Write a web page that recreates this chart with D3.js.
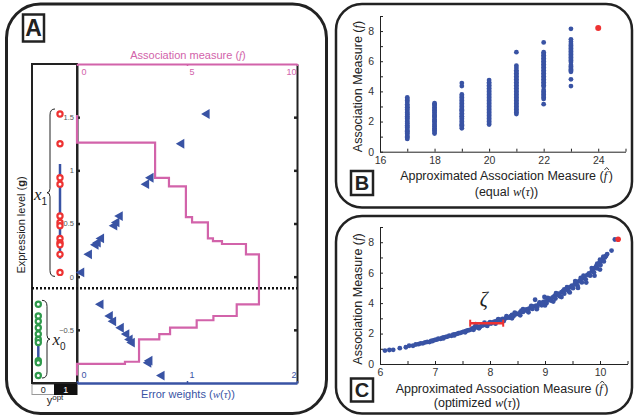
<!DOCTYPE html>
<html>
<head>
<meta charset="utf-8">
<script src="https://cdn.jsdelivr.net/npm/d3@7"></script>
<style>
  body { margin: 0; background: #fff; }
  svg { display: block; }
</style>
</head>
<body>
<div class="figure"></div>
<script>
// ---------- panel A data ----------
const gTicks = [-0.5, 0, 0.5, 1, 1.5];
const fTicks = [0, 5, 10];
const wTicks = [0, 1, 2];
// samples of class x1 (y = 1) and x0 (y = 0): expression level and error weight
const x1Expr = [1.53, 1.25, 0.93, 0.87, 0.57, 0.51, 0.48, 0.36, 0.32, 0.30, 0.21, 0.04];
const x1Weight = [1.18, 0.95, 0.67, 0.63, 0.39, 0.36, 0.34, 0.22, 0.19, 0.17, 0.11, 0.04];
const x0Expr = [-0.26, -0.37, -0.42, -0.48, -0.54, -0.59, -0.62, -0.79, -0.81, -0.93];
const x0Weight = [0.215, 0.30, 0.33, 0.40, 0.45, 0.48, 0.50, 0.66, 0.65, 0.77];
// association measure as a function of threshold (step edges on g, value between edges)
const stepEdges = [1.52, 1.26, 0.93, 0.85, 0.56, 0.51, 0.36, 0.335, 0.307, 0.21, -0.26, -0.37, -0.41, -0.48, -0.54, -0.59, -0.80, -0.82, -0.93];
const stepF = [0, 3.55, 4.18, 4.95, 5.23, 5.95, 6.18, 6.59, 7.68, 8.27, 7.26, 6.2, 5.44, 4.23, 3.74, 2.82, 2.18, 0];
const threshold = -0.11;
const yoptLabels = ['0', '1'];

// ---------- panel B data ----------
const bTicksX = [16, 17, 18, 19, 20, 21, 22, 23, 24, 25];
const bTicksY = [0, 1, 2, 3, 4, 5, 6, 7, 8, 9];
const bCols = [17, 18, 19, 20, 21, 22, 23];
const b17 = [0.85, 0.95, 1.0, 1.1, 1.2, 1.25, 1.35, 1.4, 1.5, 1.6, 1.65, 1.75, 1.85, 1.9, 2.0, 2.1, 2.2, 2.25, 2.35, 2.45, 2.5, 2.6, 2.7, 2.8, 2.9, 2.95, 3.05, 3.15, 3.3, 3.4, 3.5, 3.6];
const b18 = [1.2, 1.3, 1.4, 1.45, 1.55, 1.65, 1.7, 1.8, 1.9, 2.0, 2.05, 2.15, 2.25, 2.35, 2.4, 2.5, 2.6, 2.7, 2.75, 2.85, 2.95, 3.05, 3.15, 3.22];
const b19 = [1.55, 1.65, 1.75, 1.8, 1.9, 2.0, 2.1, 2.2, 2.3, 2.35, 2.45, 2.55, 2.65, 2.75, 2.8, 2.9, 3.0, 3.1, 3.2, 3.3, 3.4, 3.5, 3.6, 3.7, 3.8, 4.35, 4.55];
const b20 = [1.8, 1.9, 2.0, 2.1, 2.2, 2.3, 2.4, 2.5, 2.6, 2.7, 2.8, 2.9, 3.0, 3.1, 3.2, 3.3, 3.4, 3.5, 3.6, 3.7, 3.8, 3.9, 4.0, 4.1, 4.2, 4.3, 4.4, 4.5, 4.6, 4.75];
const b21 = [2.5, 2.6, 2.7, 2.8, 2.9, 3.0, 3.1, 3.2, 3.3, 3.4, 3.5, 3.6, 3.7, 3.8, 3.9, 4.0, 4.1, 4.2, 4.3, 4.4, 4.5, 4.6, 4.7, 4.8, 4.9, 5.0, 5.1, 5.2, 5.3, 5.4, 5.55, 5.7, 6.6];
const b22 = [3.15, 3.5, 3.6, 3.7, 3.8, 3.9, 4.0, 4.1, 4.3, 4.4, 4.5, 4.6, 4.7, 4.8, 4.9, 5.0, 5.1, 5.2, 5.3, 5.4, 5.5, 5.6, 5.7, 5.8, 5.9, 6.0, 6.1, 6.2, 6.3, 6.4, 6.5, 6.6, 7.25];
const b23 = [4.35, 4.8, 5.3, 5.38, 5.45, 5.55, 5.65, 5.75, 5.95, 6.05, 6.15, 6.25, 6.35, 6.45, 6.55, 6.65, 6.75, 6.85, 6.95, 7.05, 7.15, 7.3, 7.45, 8.15];
const bBest = [24, 8.2];

// ---------- panel C data ----------
const cTicksX = [6, 6.5, 7, 7.5, 8, 8.5, 9, 9.5, 10, 10.5];
const cTicksY = [0, 1, 2, 3, 4, 5, 6, 7, 8, 9];
const cPoints = [[6.09,0.88],[6.17,0.92],[6.24,0.93],[6.36,1.04],[6.47,1.1],[6.53,1.2],[6.6,1.2],[6.65,1.28],[6.7,1.3],[6.74,1.36],
  [6.78,1.36],[6.82,1.42],[6.86,1.45],[6.9,1.44],[6.93,1.52],[6.97,1.55],[7.0,1.58],[7.03,1.6],[7.06,1.66],[7.1,1.65],
  [7.13,1.72],[7.16,1.74],[7.2,1.78],[7.23,1.8],[7.26,1.86],[7.3,1.85],[7.33,1.92],[7.36,1.95],[7.4,1.98],[7.43,2.02],
  [7.46,2.04],[7.5,2.1],[7.53,2.12],[7.56,2.16],[7.59,2.2],[7.62,2.22],[7.65,2.26],[7.68,2.34],[7.7,2.3],[7.72,2.42],
  [7.74,2.62],[7.76,2.4],[7.79,2.46],[7.82,2.44],[7.85,2.52],[7.88,2.55],[7.9,2.72],[7.92,2.58],[7.95,2.6],[7.98,2.66],
  [8.0,2.75],[8.02,2.66],[8.05,2.74],[8.08,2.78],[8.11,2.8],[8.14,2.86],[8.17,2.84],[8.2,2.92],[8.23,2.96],[8.26,2.94],
  [8.29,3.02],[8.32,3.06],[8.35,3.04],[8.38,3.14],[8.4,3.22],[8.43,3.16],[8.46,3.26],[8.49,3.3],[8.52,3.28],[8.55,3.4],
  [8.57,3.5],[8.6,3.42],[8.63,3.52],[8.66,3.58],[8.68,3.48],[8.71,3.64],[8.74,3.7],[8.77,3.62],[8.8,3.78],[8.82,4.22],
  [8.84,3.84],[8.86,3.74],[8.89,3.92],[8.92,3.98],[8.94,3.86],[8.97,4.08],[8.99,4.4],[9.01,4.12],[9.03,4.0],[9.06,4.22],
  [9.09,4.3],[9.11,4.16],[9.14,4.38],[9.17,4.46],[9.19,4.3],[9.22,4.55],[9.25,4.62],[9.27,4.45],[9.3,4.72],[9.33,4.8],
  [9.35,4.62],[9.38,4.88],[9.41,4.96],[9.43,4.78],[9.46,5.06],[9.49,5.14],[9.51,4.98],[9.54,5.24],[9.57,5.34],[9.59,5.16],
  [9.62,5.44],[9.65,5.54],[9.67,5.36],[9.7,5.64],[9.72,5.74],[9.74,5.56],[9.77,5.86],[9.8,5.96],[9.82,5.8],[9.85,6.08],
  [9.87,6.2],[9.89,6.02],[9.91,6.32],[9.93,6.42],[9.95,6.28],[9.97,6.55],[9.99,6.65],[10.01,6.5],[10.03,6.78],[10.05,6.88],
  [10.07,6.74],[10.09,7.0],[10.11,7.1],[10.13,7.22],[10.21,7.45],[10.27,8.18],
  [6.95,1.5],[7.15,1.68],[7.35,1.88],[7.55,2.08],[7.7,2.25],[7.8,2.35],[7.95,2.5],[8.1,2.65],[8.25,2.82],[8.4,3.0],
  [8.55,3.2],[8.7,3.4],[8.85,3.6],[9.0,3.85],[9.15,4.1],[9.3,4.4],[9.45,4.7],[9.6,5.0],[9.75,5.35],[9.9,5.8],
  [10.0,6.2],[8.3,3.15],[8.6,3.6],[8.9,4.05],[9.2,4.65],[9.4,5.05],[9.55,5.45],[9.7,5.8],[9.85,6.3],[10.0,6.85],
  [10.06,7.05],[8.15,2.95],[8.45,3.38],[8.75,3.82],[9.05,4.35],[9.35,4.9],[9.65,5.65],[9.95,6.6],[8.96,3.95],[9.26,4.52]];
const cBest = [10.33, 8.2];
const zetaRange = [7.64, 8.24];
const zetaY = 2.68;

// ---------- colours ----------
const pink = '#d263aa', blue = '#3953a4', red = '#ee3232', green = '#2f9a4c', ink = '#222';
const sans = '"Liberation Sans", Arial, sans-serif', serif = '"Liberation Serif", serif';

const svg = d3.select('.figure').append('svg')
  .attr('width', 635).attr('height', 419)
  .style('font-family', sans);

// text with some math (italic serif) parts; a part with hat gets a small chevron drawn above it
function label(g, x, y, parts, opt) {
  const t = g.append('text').attr('x', x).attr('y', y)
    .attr('font-size', opt.size).attr('fill', opt.fill || ink)
    .attr('text-anchor', opt.anchor || 'middle');
  if (opt.rotate) t.attr('transform', 'rotate(-90,' + x + ',' + y + ')');
  const hats = [];
  parts.forEach(function(p) {
    if (typeof p === 'string') p = {t: p};
    const s = t.append('tspan').text(p.t);
    if (p.i) s.attr('font-family', serif).attr('font-style', 'italic');
    if (p.dx) s.attr('dx', p.dx);
    if (p.dy) s.attr('dy', p.dy);
    if (p.size) s.attr('font-size', p.size);
    if (p.w) s.attr('font-weight', p.w);
    if (p.hat) hats.push(s);
  });
  hats.forEach(function(s) {
    const b = s.node().getBBox();
    const hx = b.x + b.width * 0.5 + 0.5;
    g.append('path')
      .attr('d', 'M' + (hx - 2.3) + ',' + (y - 9.5) + ' L' + hx + ',' + (y - 12) + ' L' + (hx + 2.3) + ',' + (y - 9.5))
      .attr('fill', 'none').attr('stroke', opt.fill || ink).attr('stroke-width', 0.9);
  });
  return t;
}

function panelTag(x, y, w, h, letter, size) {
  svg.append('rect').attr('x', x).attr('y', y).attr('width', w).attr('height', h)
    .attr('fill', '#fff').attr('stroke', ink).attr('stroke-width', 2.5);
  svg.append('text').attr('x', x + w / 2).attr('y', y + h / 2 + size * 0.36)
    .attr('text-anchor', 'middle').attr('font-size', size).attr('font-weight', 'bold')
    .attr('fill', ink).text(letter);
}

// panel frames
svg.append('rect').attr('x', 6.5).attr('y', 4).attr('width', 320).attr('height', 409.5)
  .attr('rx', 34).attr('fill', 'none').attr('stroke', ink).attr('stroke-width', 3);
svg.append('rect').attr('x', 336).attr('y', 4).attr('width', 296).attr('height', 203.5)
  .attr('rx', 26).attr('fill', 'none').attr('stroke', ink).attr('stroke-width', 2.5);
svg.append('rect').attr('x', 336).attr('y', 216).attr('width', 296).attr('height', 197.5)
  .attr('rx', 26).attr('fill', 'none').attr('stroke', ink).attr('stroke-width', 2.5);

const plainNum = d => (d < 0 ? '\u2212' : '') + Math.abs(d);

// ================= panel A =================
const A = svg.append('g');
const fScale = d3.scaleLinear().domain([0, 10]).range([77, 297]);
const wScale = d3.scaleLinear().domain([0, 2]).range([77, 297]);
const gScale = d3.scaleLinear().domain([-1, 2]).range([383, 64]);
const stripL = 32, stripR = 77, col1 = 60, col0 = 38.3;

// strip frame
A.append('rect').attr('x', stripL).attr('y', gScale(2)).attr('width', stripR - stripL)
  .attr('height', gScale(-1) - gScale(2)).attr('fill', 'none').attr('stroke', ink).attr('stroke-width', 2);

// y^opt boxes
yoptLabels.forEach(function(d, i) {
  const bw = (stripR - stripL) / 2;
  A.append('rect').attr('x', stripL + i * bw).attr('y', 384.5).attr('width', bw).attr('height', 10)
    .attr('fill', i ? '#111' : '#fff').attr('stroke', i ? '#111' : '#999').attr('stroke-width', 1);
  A.append('text').attr('x', stripL + i * bw + bw / 2).attr('y', 393).attr('text-anchor', 'middle')
    .attr('font-size', 9).attr('fill', i ? '#fff' : ink).text(d);
});
label(A, 55, 404, ['y', {t: 'opt', size: 8, dy: -4}], {size: 11});

// mean +/- sd bars in the strip
[[x1Expr, col1], [x0Expr, col0]].forEach(function(c) {
  const m = d3.mean(c[0]), s = d3.deviation(c[0]);
  A.append('line').attr('x1', c[1]).attr('x2', c[1])
    .attr('y1', gScale(m + s)).attr('y2', gScale(m - s))
    .attr('stroke', blue).attr('stroke-width', 2.5);
});

A.selectAll('.c1').data(x1Expr).enter().append('circle')
  .attr('cx', col1).attr('cy', d => gScale(d)).attr('r', 2.6)
  .attr('fill', '#fff').attr('stroke', red).attr('stroke-width', 2.2);
A.selectAll('.c0').data(x0Expr).enter().append('circle')
  .attr('cx', col0).attr('cy', d => gScale(d)).attr('r', 2.6)
  .attr('fill', '#fff').attr('stroke', green).attr('stroke-width', 2.2);

// braces
function brace(xs, y0, y1, d) {
  const ym = (y0 + y1) / 2;
  return 'M' + (xs - d * 5) + ',' + y0 + ' Q' + xs + ',' + y0 + ' ' + xs + ',' + (y0 + 6) +
    ' L' + xs + ',' + (ym - 4) + ' Q' + xs + ',' + ym + ' ' + (xs + d * 3) + ',' + ym +
    ' Q' + xs + ',' + ym + ' ' + xs + ',' + (ym + 4) +
    ' L' + xs + ',' + (y1 - 6) + ' Q' + xs + ',' + y1 + ' ' + (xs - d * 5) + ',' + y1;
}
const e1 = d3.extent(x1Expr), e0 = d3.extent(x0Expr);
A.append('path').attr('d', brace(50, gScale(e1[1]) - 5, gScale(e1[0]) + 4, -1))
  .attr('fill', 'none').attr('stroke', ink).attr('stroke-width', 1);
A.append('path').attr('d', brace(47, gScale(e0[1]) - 4, gScale(e0[0]) + 2.5, 1))
  .attr('fill', 'none').attr('stroke', ink).attr('stroke-width', 1);
label(A, 34, 200, [{t: 'x', i: 1}, {t: '1', size: 10, dy: 5}], {size: 17, anchor: 'start'});
label(A, 52.5, 345, [{t: 'x', i: 1}, {t: '0', size: 10, dy: 5}], {size: 17, anchor: 'start'});

// y axis label
label(A, 24.5, 225, ['Expression level (', {t: 'g', w: 'bold'}, ')'], {size: 11, rotate: 1});

// left axis (expression level)
const gAxis = A.append('g').attr('transform', 'translate(' + stripR + ',0)')
  .call(d3.axisLeft(gScale).tickValues(gTicks).tickFormat(plainNum).tickSizeInner(-3).tickSizeOuter(0).tickPadding(3))
  .attr('font-family', sans).attr('font-size', 7.5);
gAxis.select('.domain').attr('stroke', ink).attr('stroke-width', 2);
gAxis.selectAll('.tick line').attr('stroke', ink).attr('stroke-width', 2.5);
gAxis.selectAll('.tick text').attr('fill', '#555');

// right axis
const rAxis = A.append('g').attr('transform', 'translate(297,0)')
  .call(d3.axisRight(gScale).tickValues(gTicks).tickSizeInner(-3).tickSizeOuter(0).tickFormat(''));
rAxis.select('.domain').attr('stroke', ink).attr('stroke-width', 2);
rAxis.selectAll('.tick line').attr('stroke', ink).attr('stroke-width', 2.5);

// top axis (association measure)
const fAxis = A.append('g').attr('transform', 'translate(0,' + gScale(2) + ')')
  .call(d3.axisBottom(fScale).tickValues(fTicks).tickFormat(plainNum).tickSizeInner(2).tickSizeOuter(0).tickPadding(3))
  .attr('font-family', sans).attr('font-size', 9);
fAxis.select('.domain').attr('stroke', pink).attr('stroke-width', 2);
fAxis.selectAll('.tick line').attr('stroke', pink).attr('stroke-width', 1.5);
fAxis.selectAll('.tick text').attr('fill', pink)
  .attr('text-anchor', (d, i) => i === fTicks.length - 1 ? 'end' : 'start')
  .attr('dx', (d, i) => i === 0 ? 4 : (i === fTicks.length - 1 ? -1 : 2));
label(A, 188, 58.5, ['Association measure (', {t: 'f', i: 1}, ')'], {size: 11, fill: pink});

// bottom axis (error weights)
const wAxis = A.append('g').attr('transform', 'translate(0,' + gScale(-1) + ')')
  .call(d3.axisTop(wScale).tickValues(wTicks).tickFormat(plainNum).tickSizeInner(2).tickSizeOuter(0).tickPadding(3))
  .attr('font-family', sans).attr('font-size', 9);
wAxis.select('.domain').attr('stroke', blue).attr('stroke-width', 2.5);
wAxis.selectAll('.tick line').attr('stroke', blue).attr('stroke-width', 1.5);
wAxis.selectAll('.tick text').attr('fill', blue)
  .attr('text-anchor', (d, i) => i === wTicks.length - 1 ? 'end' : 'start')
  .attr('dx', (d, i) => i === 0 ? 4 : (i === wTicks.length - 1 ? -1 : 2));
label(A, 188, 397.5, ['Error weights (', {t: 'w', i: 1}, '(', {t: '\u03c4', i: 1}, '))'], {size: 11, fill: blue});

// threshold
A.append('line').attr('x1', stripL).attr('x2', 297)
  .attr('y1', gScale(threshold)).attr('y2', gScale(threshold))
  .attr('stroke', '#111').attr('stroke-width', 2.5).attr('stroke-dasharray', '2,2');

// association measure step line
const stepPts = [];
stepF.forEach(function(f, i) {
  stepPts.push([f, stepEdges[i]]);
  stepPts.push([f, stepEdges[i + 1]]);
});
A.append('path').datum(stepPts)
  .attr('fill', 'none').attr('stroke', pink).attr('stroke-width', 2.2)
  .attr('d', d3.line().x(d => fScale(d[0])).y(d => gScale(d[1])));

// error weights (left pointing triangles)
const tri = d3.symbol().type(d3.symbolTriangle).size(42);
const weightPts = x1Expr.map((g, i) => [x1Weight[i], g]).concat(x0Expr.map((g, i) => [x0Weight[i], g]));
A.selectAll('.tri').data(weightPts).enter().append('path')
  .attr('d', tri)
  .attr('transform', d => 'translate(' + wScale(d[0]) + ',' + gScale(d[1]) + ') rotate(-90)')
  .attr('fill', blue);

panelTag(23, 14.5, 21, 27, 'A', 23);

// ================= shared axis style for B and C =================
function styleAxis(g) {
  g.attr('font-family', sans).attr('font-size', 10.5);
  g.select('.domain').attr('stroke', ink).attr('stroke-width', 1);
  g.selectAll('.tick line').attr('stroke', ink);
  g.selectAll('.tick text').attr('fill', '#333');
}
const evenLabel = d => (Math.abs(d % 2) < 1e-9 ? d : '');
const intLabel = d => (Number.isInteger(d) ? d : '');

// ================= panel B =================
const B = svg.append('g');
const bx = d3.scaleLinear().domain([16, 25]).range([380, 625.5]);
const by = d3.scaleLinear().domain([0, 9]).range([151.7, 16]);
B.append('g').attr('transform', 'translate(0,' + by(0) + ')')
  .call(d3.axisBottom(bx).tickValues(bTicksX).tickFormat(evenLabel).tickSizeInner(-3).tickSizeOuter(0).tickPadding(4.5))
  .call(styleAxis);
B.append('g').attr('transform', 'translate(' + bx(16) + ',0)')
  .call(d3.axisLeft(by).tickValues(bTicksY).tickFormat(evenLabel).tickSizeInner(-3).tickSizeOuter(0).tickPadding(6))
  .call(styleAxis);

const bData = [b17, b18, b19, b20, b21, b22, b23];
bData.forEach(function(vals, i) {
  B.selectAll('.b' + i).data(vals).enter().append('circle')
    .attr('cx', bx(bCols[i])).attr('cy', d => by(d)).attr('r', 2.4).attr('fill', blue);
});
B.append('circle').attr('cx', bx(bBest[0])).attr('cy', by(bBest[1])).attr('r', 3).attr('fill', red);

label(B, 362, 86.5, ['Association Measure (', {t: 'f', i: 1}, ')'], {size: 12.5, rotate: 1});
label(B, 506.5, 179.5, ['Approximated Association Measure (', {t: 'f', i: 1, hat: 1}, {t: ')', dx: 1.5}], {size: 12.5});
label(B, 506.5, 196, ['(equal ', {t: 'w', i: 1}, '(', {t: '\u03c4', i: 1}, '))'], {size: 12.5});
panelTag(351, 171, 22, 24, 'B', 20);

// ================= panel C =================
const C = svg.append('g');
const cx = d3.scaleLinear().domain([6, 10.5]).range([380, 627.5]);
const cy = d3.scaleLinear().domain([0, 9]).range([364, 227]);
C.append('g').attr('transform', 'translate(0,' + cy(0) + ')')
  .call(d3.axisBottom(cx).tickValues(cTicksX).tickFormat(intLabel).tickSizeInner(-3).tickSizeOuter(0).tickPadding(4.5))
  .call(styleAxis);
C.append('g').attr('transform', 'translate(' + cx(6) + ',0)')
  .call(d3.axisLeft(cy).tickValues(cTicksY).tickFormat(evenLabel).tickSizeInner(-3).tickSizeOuter(0).tickPadding(6))
  .call(styleAxis);

C.selectAll('.cp').data(cPoints).enter().append('circle')
  .attr('cx', d => cx(d[0])).attr('cy', d => cy(d[1])).attr('r', 2.4).attr('fill', blue);
C.append('circle').attr('cx', cx(cBest[0])).attr('cy', cy(cBest[1])).attr('r', 2.8).attr('fill', red);

// zeta interval
C.append('line').attr('x1', cx(zetaRange[0])).attr('x2', cx(zetaRange[1]))
  .attr('y1', cy(zetaY)).attr('y2', cy(zetaY)).attr('stroke', red).attr('stroke-width', 2.5);
zetaRange.forEach(function(v) {
  C.append('line').attr('x1', cx(v)).attr('x2', cx(v))
    .attr('y1', cy(zetaY) - 3.5).attr('y2', cy(zetaY) + 3.5).attr('stroke', red).attr('stroke-width', 2);
});
label(C, cx(d3.mean(zetaRange)) - 3, 306, [{t: '\u03b6', i: 1}], {size: 20});

label(C, 362, 299, ['Association Measure (', {t: 'f', i: 1}, ')'], {size: 12.5, rotate: 1});
label(C, 502, 393, ['Approximated Association Measure (', {t: 'f', i: 1, hat: 1}, {t: ')', dx: 1.5}], {size: 12.5});
label(C, 477, 406.5, ['(optimized  ', {t: 'w', i: 1}, '(', {t: '\u03c4', i: 1}, '))'], {size: 12.5});
panelTag(351, 378.5, 22, 23, 'C', 20);
</script>
</body>
</html>
